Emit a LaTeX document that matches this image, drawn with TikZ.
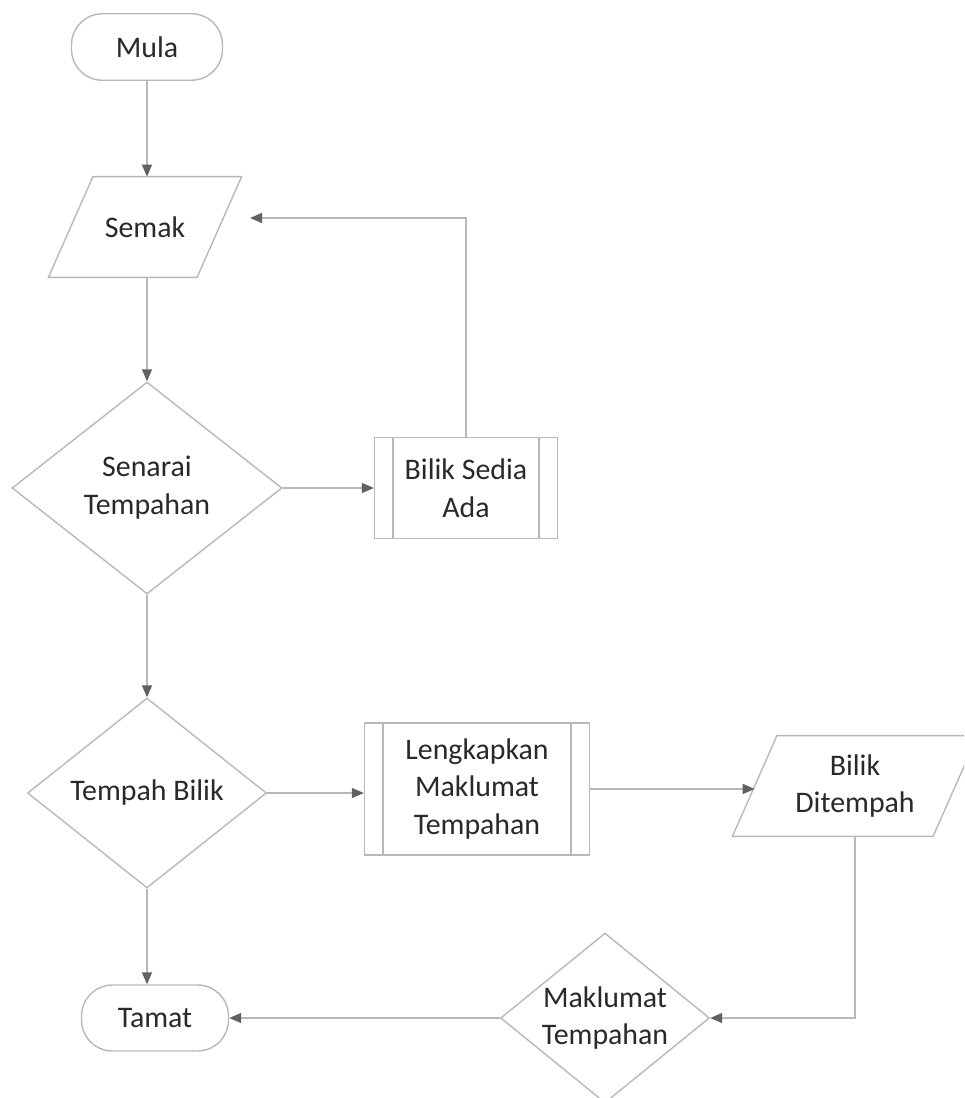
\documentclass[tikz,border=0pt]{standalone}
\usepackage{fontspec}
\setmainfont{Carlito}
\usetikzlibrary{shapes.geometric,arrows.meta}
\definecolor{edgegray}{gray}{0.72}
\definecolor{tipgray}{gray}{0.38}
\definecolor{textgray}{gray}{0.16}

\begin{document}
\begin{tikzpicture}[x=0.02cm,y=-0.02cm,
    every node/.style={font=\fontsize{17}{21.5}\selectfont, text=textgray, align=center},
    terminal/.style={draw=edgegray, line width=0.8pt, rectangle, rounded corners=0.62cm},
    io/.style={rectangle, minimum height=2cm},
    decision/.style={draw=edgegray, line width=0.8pt, diamond, inner sep=0pt},
    subproc/.style={draw=edgegray, line width=0.8pt, rectangle},
    flow/.style={draw=edgegray, line width=0.8pt, -{Triangle[length=0.24cm, width=0.2cm, color=tipgray]}}]
    \useasboundingbox (0,0) rectangle (964,1098);
    \clip (0,0) rectangle (964,1098);

    \node[terminal, minimum width=3.02cm, minimum height=1.33cm] (mula) at (147,47) {Mula};
    \node[io, minimum width=2.96cm] (semak) at (145,227) {Semak};
    \node[decision, minimum width=5.4cm, minimum height=4.24cm] (senarai) at (147,488) {Senarai\\Tempahan};
    \node[subproc, minimum width=3.66cm, minimum height=2.02cm] (bsa) at (466,488) {Bilik Sedia\\Ada};
    \node[decision, minimum width=4.78cm, minimum height=3.8cm] (tempah) at (147,793) {Tempah Bilik};
    \node[subproc, minimum width=4.5cm, minimum height=2.64cm] (lengkap) at (477,789) {Lengkapkan\\Maklumat\\Tempahan};
    \node[io, minimum width=4cm] (ditempah) at (855,786) {Bilik\\Ditempah};
    \node[decision, minimum width=4.18cm, minimum height=3.4cm, shape aspect=1.23] (maklumat) at (605,1018) {Maklumat\\Tempahan};
    \node[terminal, minimum width=2.94cm, minimum height=1.32cm] (tamat) at (155,1018) {Tamat};

    %bentuk input/output (selari)
    \foreach \n in {semak,ditempah} {
        \draw[edgegray, line width=0.8pt] ([xshift=-0.445cm]\n.south west) -- ([xshift=0.445cm]\n.north west)
            -- ([xshift=0.445cm]\n.north east) -- ([xshift=-0.445cm]\n.south east) -- cycle;
    }

    %garis dalam kotak subproses
    \foreach \n in {bsa,lengkap} {
        \draw[edgegray, line width=0.8pt] ([xshift=0.38cm]\n.north west) -- ([xshift=0.38cm]\n.south west);
        \draw[edgegray, line width=0.8pt] ([xshift=-0.38cm]\n.north east) -- ([xshift=-0.38cm]\n.south east);
    }

    %Anak panah
    \coordinate (semakin) at (250,218);
    \draw[flow] (mula) -- (mula |- semak.north);
    \draw[flow] (semak.south -| senarai.north) -- (senarai);
    \draw[flow] (senarai) -- (bsa);
    \draw[flow] (bsa.north) |- (semakin);
    \draw[flow] (senarai) -- (tempah);
    \draw[flow] (tempah.east) -- (tempah.east -| lengkap.west);
    \draw[flow] (lengkap) -- (lengkap -| ditempah.west);
    \draw[flow] (ditempah.south) |- (maklumat.east);
    \draw[flow] (maklumat) -- (tamat);
    \draw[flow] (tempah.south) -- (tempah.south |- tamat.north);
\end{tikzpicture}
\end{document}
